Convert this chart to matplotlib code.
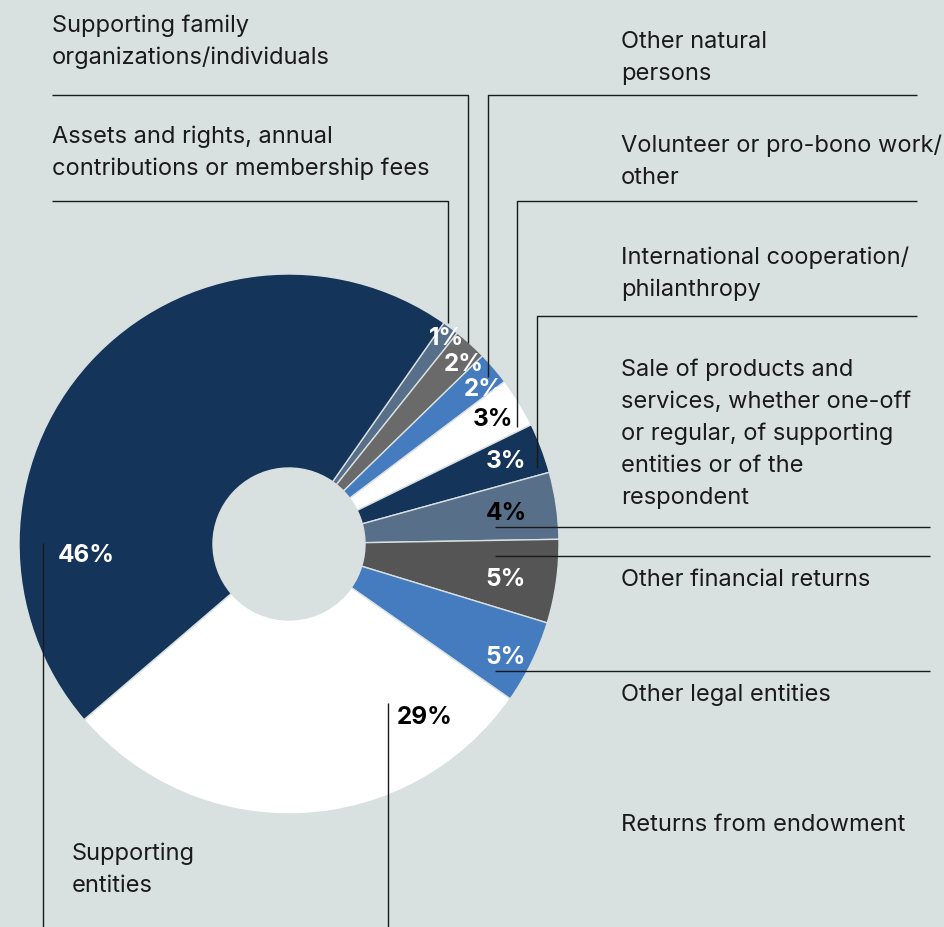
import matplotlib
matplotlib.use("Agg")
import matplotlib.pyplot as plt

# канва в пикселях: 944 x 927, y отсчитываем сверху и переворачиваем
W, H = 944, 927
BG = "#d8e0e0"
FONT = "Inter"

# ---------------- данные ----------------
# порядок долей по часовой стрелке, начиная с верхнего узкого сектора
shares = [1, 2, 2, 3, 3, 4, 5, 5, 29, 46]
sources = [
    "Assets and rights, annual\ncontributions or membership fees",
    "Supporting family\norganizations/individuals",
    "Other natural\npersons",
    "Volunteer or pro-bono work/\nother",
    "International cooperation/\nphilanthropy",
    "Sale of products and\nservices, whether one-off\nor regular, of supporting\nentities or of the\nrespondent",
    "Other financial returns",
    "Other legal entities",
    "Returns from endowment",
    "Supporting\nentities",
]
colors = ["#586f8a", "#6a6a6a", "#457cc0", "#ffffff", "#15345a",
          "#586f8a", "#555555", "#457cc0", "#ffffff", "#15345a"]
pct_colors = ["white", "white", "white", "black", "white",
              "black", "white", "white", "black", "white"]

# ---------------- раскладка (пиксели) ----------------
CENTER = (289, 544)
R_OUT, R_IN = 270, 76
START = 55

pct_pos = [(446, 338), (464, 364), (484, 389), (493, 419), (506, 461),
           (506, 513), (506, 579), (506, 657), (425, 718), (86, 556)]

# левый край и центр первой строки подписи
label_pos = [(52, 137), (52, 26), (621, 42), (621, 146), (621, 258),
             (621, 370), (621, 580), (621, 695), (621, 825), (72, 854)]

# выноски: ломаные в пикселях
leaders = [
    [(52, 201), (448, 201), (448, 323)],
    [(52, 95), (468, 95), (468, 343)],
    [(917, 95), (488, 95), (488, 377)],
    [(917, 201), (517, 201), (517, 427)],
    [(917, 316), (537, 316), (537, 468)],
    [(930, 527), (495, 527)],
    [(930, 556), (495, 556)],
    [(930, 671), (495, 671)],
    [(388, 703), (388, 927)],
    [(43, 543), (43, 927)],
]
LINE_STEP = 32


def fy(py):
    return H - py


fig = plt.figure(figsize=(W / 100, H / 100), dpi=100)
fig.patch.set_facecolor(BG)
ax = fig.add_axes([0, 0, 1, 1])
ax.set_facecolor(BG)

ax.pie(shares, colors=colors, startangle=START, counterclock=False,
       center=(CENTER[0], fy(CENTER[1])), radius=R_OUT,
       wedgeprops=dict(width=R_OUT - R_IN, edgecolor=BG, linewidth=1.0))

ax.set_xlim(0, W)
ax.set_ylim(0, H)
ax.set_aspect("equal")
ax.axis("off")

for v, (px, py), c in zip(shares, pct_pos, pct_colors):
    ax.text(px, fy(py), f"{v}%", color=c, fontsize=17.5, fontweight="bold",
            family=FONT, ha="center", va="center")

for text, (px, py) in zip(sources, label_pos):
    for i, line in enumerate(text.split("\n")):
        ax.text(px, fy(py + i * LINE_STEP), line, color="#1a1a1a",
                fontsize=17, family=FONT, ha="left", va="center")

for pts in leaders:
    xs = [p[0] for p in pts]
    ys = [fy(p[1]) for p in pts]
    ax.plot(xs, ys, color="#1a1a1a", lw=1.0, solid_capstyle="butt")

fig.savefig("out.png", dpi=100, facecolor=BG)
